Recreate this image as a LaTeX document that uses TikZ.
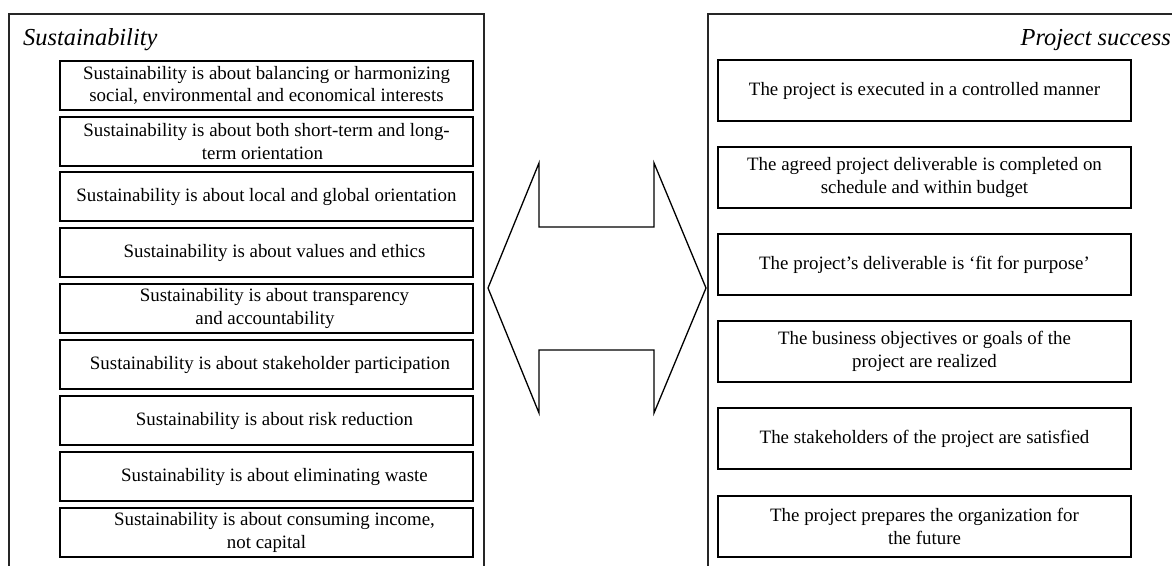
\documentclass[tikz,border=0pt]{standalone}
\usepackage{fontspec}
\setmainfont{Liberation Serif}
\newcommand\myboxfont{\fontsize{18.9}{22.7}\selectfont}
\newcommand\mytitlefont{\fontsize{24.4}{29}\selectfont\itshape}
\tikzset{
  frameline/.style={line width=1.6pt, draw=black!85},
  lbox/.style={draw, line width=1.8pt, minimum width=413pt, minimum height=49pt, align=center, font=\myboxfont, inner sep=0pt},
  rbox/.style={draw, line width=1.8pt, minimum width=413pt, minimum height=61pt, align=center, font=\myboxfont, inner sep=0pt},
  bigarrow/.style={draw, line width=1.3pt, line join=miter},
  paneltitle/.style={font=\mytitlefont, inner sep=0pt},
  shiftr/.style={text width=413pt, xshift=0pt}
}
\begin{document}
\begin{tikzpicture}[x=1pt, y=-1pt]
\useasboundingbox (0,0) rectangle (1172,565);
\clip (0,0) rectangle (1172,565);
% panels
\draw[frameline] (9,570) -- (9,14) -- (484,14) -- (484,570);
\draw[frameline] (708,570) -- (708,14) -- (1180,14);
\node[paneltitle, anchor=base west] (tl) at (23,45) {Sustainability};
\node[paneltitle, anchor=base east] (tr) at (1171,45) {Project success};
% left boxes
\node[lbox] (l1) at (266.5,85.5) {Sustainability is about balancing or harmonizing\\social, environmental and economical interests};
\node[lbox] (l2) at (266.5,141.5) {Sustainability is about both short-term and long-\\\hspace*{-8pt}term orientation};
\node[lbox] (l3) at (266.5,196.5) {Sustainability is about local and global orientation};
\node[lbox] (l4) at (266.5,252.5) {\hspace*{16pt}Sustainability is about values and ethics};
\node[lbox] (l5) at (266.5,308.5) {\hspace*{16pt}Sustainability is about transparency\\\hspace*{-3pt}and accountability};
\node[lbox] (l6) at (266.5,364.5) {\hspace*{7pt}Sustainability is about stakeholder participation};
\node[lbox] (l7) at (266.5,420.5) {\hspace*{16pt}Sustainability is about risk reduction};
\node[lbox] (l8) at (266.5,476.5) {\hspace*{16pt}Sustainability is about eliminating waste};
\node[lbox] (l9) at (266.5,532.5) {\hspace*{16pt}Sustainability is about consuming income,\\not capital};
% right boxes
\node[rbox] (r1) at (924.5,90.5) {The project is executed in a controlled manner};
\node[rbox] (r2) at (924.5,177.5) {The agreed project deliverable is completed on\\schedule and within budget};
\node[rbox] (r3) at (924.5,264.5) {The project’s deliverable is ‘fit for purpose’};
\node[rbox] (r4) at (924.5,351.5) {The business objectives or goals of the\\project are realized};
\node[rbox] (r5) at (924.5,438.5) {The stakeholders of the project are satisfied};
\node[rbox] (r6) at (924.5,526.5) {The project prepares the organization for\\the future};
% double arrow
\draw[bigarrow] (488,288) -- (539,163) -- (539,227) -- (654,227) -- (654,163) -- (706,288)
  -- (654,413) -- (654,350) -- (539,350) -- (539,413) -- cycle;
\end{tikzpicture}
\end{document}
